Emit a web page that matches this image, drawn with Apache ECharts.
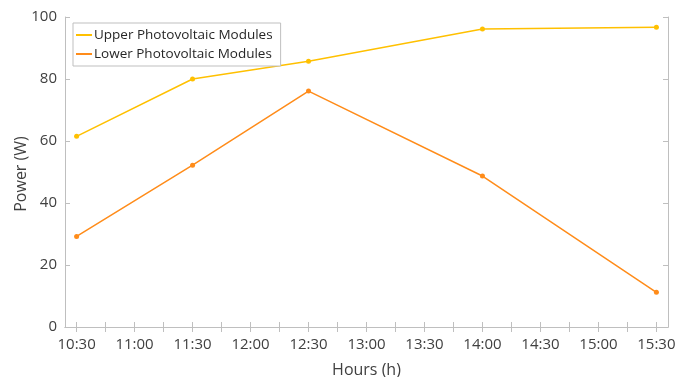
<!DOCTYPE html>
<html>
<head>
<meta charset="utf-8">
<script src="https://cdn.jsdelivr.net/npm/echarts@6/dist/echarts.min.js"></script>
<style>
  html, body { margin: 0; padding: 0; background: #fff; }
  #main { width: 678px; height: 377px; }
</style>
</head>
<body>
<div id="main"></div>
<script>
// time of measurement, in hours
var hours = [10.5, 11.5, 12.5, 14, 15.5];
var upperPower = [61.5, 80, 85.7, 96.1, 96.7];
var lowerPower = [29.2, 52.2, 76.1, 48.7, 11.2];
// labelled ticks every 30 min, small ticks every 15 min
var labelHours = [10.5, 11, 11.5, 12, 12.5, 13, 13.5, 14, 14.5, 15, 15.5];
var tickHours = [10.5, 10.75, 11, 11.25, 11.5, 11.75, 12, 12.25, 12.5, 12.75, 13, 13.25,
                 13.5, 13.75, 14, 14.25, 14.5, 14.75, 15, 15.25, 15.5];
var yTicks = [0, 20, 40, 60, 80, 100];

function toClock(h) {
  var hh = Math.floor(h + 1e-6);
  var mm = Math.round((h - hh) * 60);
  return hh + ':' + (mm < 10 ? '0' + mm : mm);
}

var font = 'Open Sans';
var frame = '#bfbfbf';
var textColor = '#404040';

var myChart = echarts.init(document.getElementById('main'));

var option = {
  backgroundColor: '#fff',
  animation: false,
  textStyle: { fontFamily: font },
  grid: { left: 65, right: 10, top: 17, bottom: 50, outerBoundsMode: 'none', containLabel: false },
  // y axis title placed by hand (the axis name kept getting pushed outwards)
  graphic: [{
    type: 'text',
    x: 21,
    y: 174,
    rotation: Math.PI / 2,
    style: {
      text: 'Power (W)',
      fontFamily: font,
      fontSize: 16,
      fill: textColor,
      align: 'center',
      verticalAlign: 'middle'
    }
  }],
  legend: {
    orient: 'vertical',
    left: 73,
    top: 23,
    padding: [5, 8, 5, 3],
    itemGap: 5,
    itemWidth: 16,
    itemHeight: 2,
    icon: 'rect',
    borderColor: frame,
    borderWidth: 1,
    backgroundColor: '#fff',
    textStyle: { fontFamily: font, fontSize: 13.5, color: '#262626', padding: [0, 0, 0, -3] },
    data: ['Upper Photovoltaic Modules', 'Lower Photovoltaic Modules']
  },
  xAxis: [
    {
      type: 'value',
      min: 10.4,
      max: 15.6,
      name: 'Hours (h)',
      nameLocation: 'middle',
      nameGap: 35,
      nameMoveOverlap: false,
      nameTextStyle: { fontFamily: font, fontSize: 16, color: textColor },
      axisLine: { lineStyle: { color: frame } },
      axisTick: { inside: true, length: 5, lineStyle: { color: frame }, customValues: tickHours },
      axisLabel: {
        customValues: labelHours,
        formatter: toClock,
        fontFamily: font, fontSize: 15, color: textColor, margin: 10
      },
      splitLine: { show: false }
    },
    {
      type: 'value',
      position: 'top',
      min: 10.4,
      max: 15.6,
      axisLine: { show: true, lineStyle: { color: frame } },
      axisTick: { inside: true, length: 5, lineStyle: { color: frame }, customValues: tickHours },
      axisLabel: { show: false },
      splitLine: { show: false }
    }
  ],
  yAxis: [
    {
      type: 'value',
      min: 0,
      max: 100,
      interval: 20,
      axisLine: { show: true, lineStyle: { color: frame } },
      axisTick: { show: true, inside: true, length: 5, lineStyle: { color: frame } },
      axisLabel: {
        customValues: yTicks,
        fontFamily: font, fontSize: 15, color: textColor, margin: 8
      },
      splitLine: { show: false }
    },
    {
      type: 'value',
      position: 'right',
      min: 0,
      max: 100,
      interval: 20,
      axisLine: { show: true, lineStyle: { color: frame } },
      axisTick: { show: true, inside: true, length: 5, lineStyle: { color: frame } },
      axisLabel: { show: false },
      splitLine: { show: false }
    }
  ],
  series: [
    {
      name: 'Upper Photovoltaic Modules',
      type: 'line',
      data: hours.map(function (h, i) { return [h, upperPower[i]]; }),
      symbol: 'circle',
      symbolSize: 5,
      color: '#ffc000',
      lineStyle: { width: 1.5, color: '#ffc000' },
      itemStyle: { color: '#ffc000' }
    },
    {
      name: 'Lower Photovoltaic Modules',
      type: 'line',
      data: hours.map(function (h, i) { return [h, lowerPower[i]]; }),
      symbol: 'circle',
      symbolSize: 5,
      color: '#ff8c1a',
      lineStyle: { width: 1.5, color: '#ff8c1a' },
      itemStyle: { color: '#ff8c1a' }
    }
  ]
};
myChart.setOption(option);
</script>
</body>
</html>
